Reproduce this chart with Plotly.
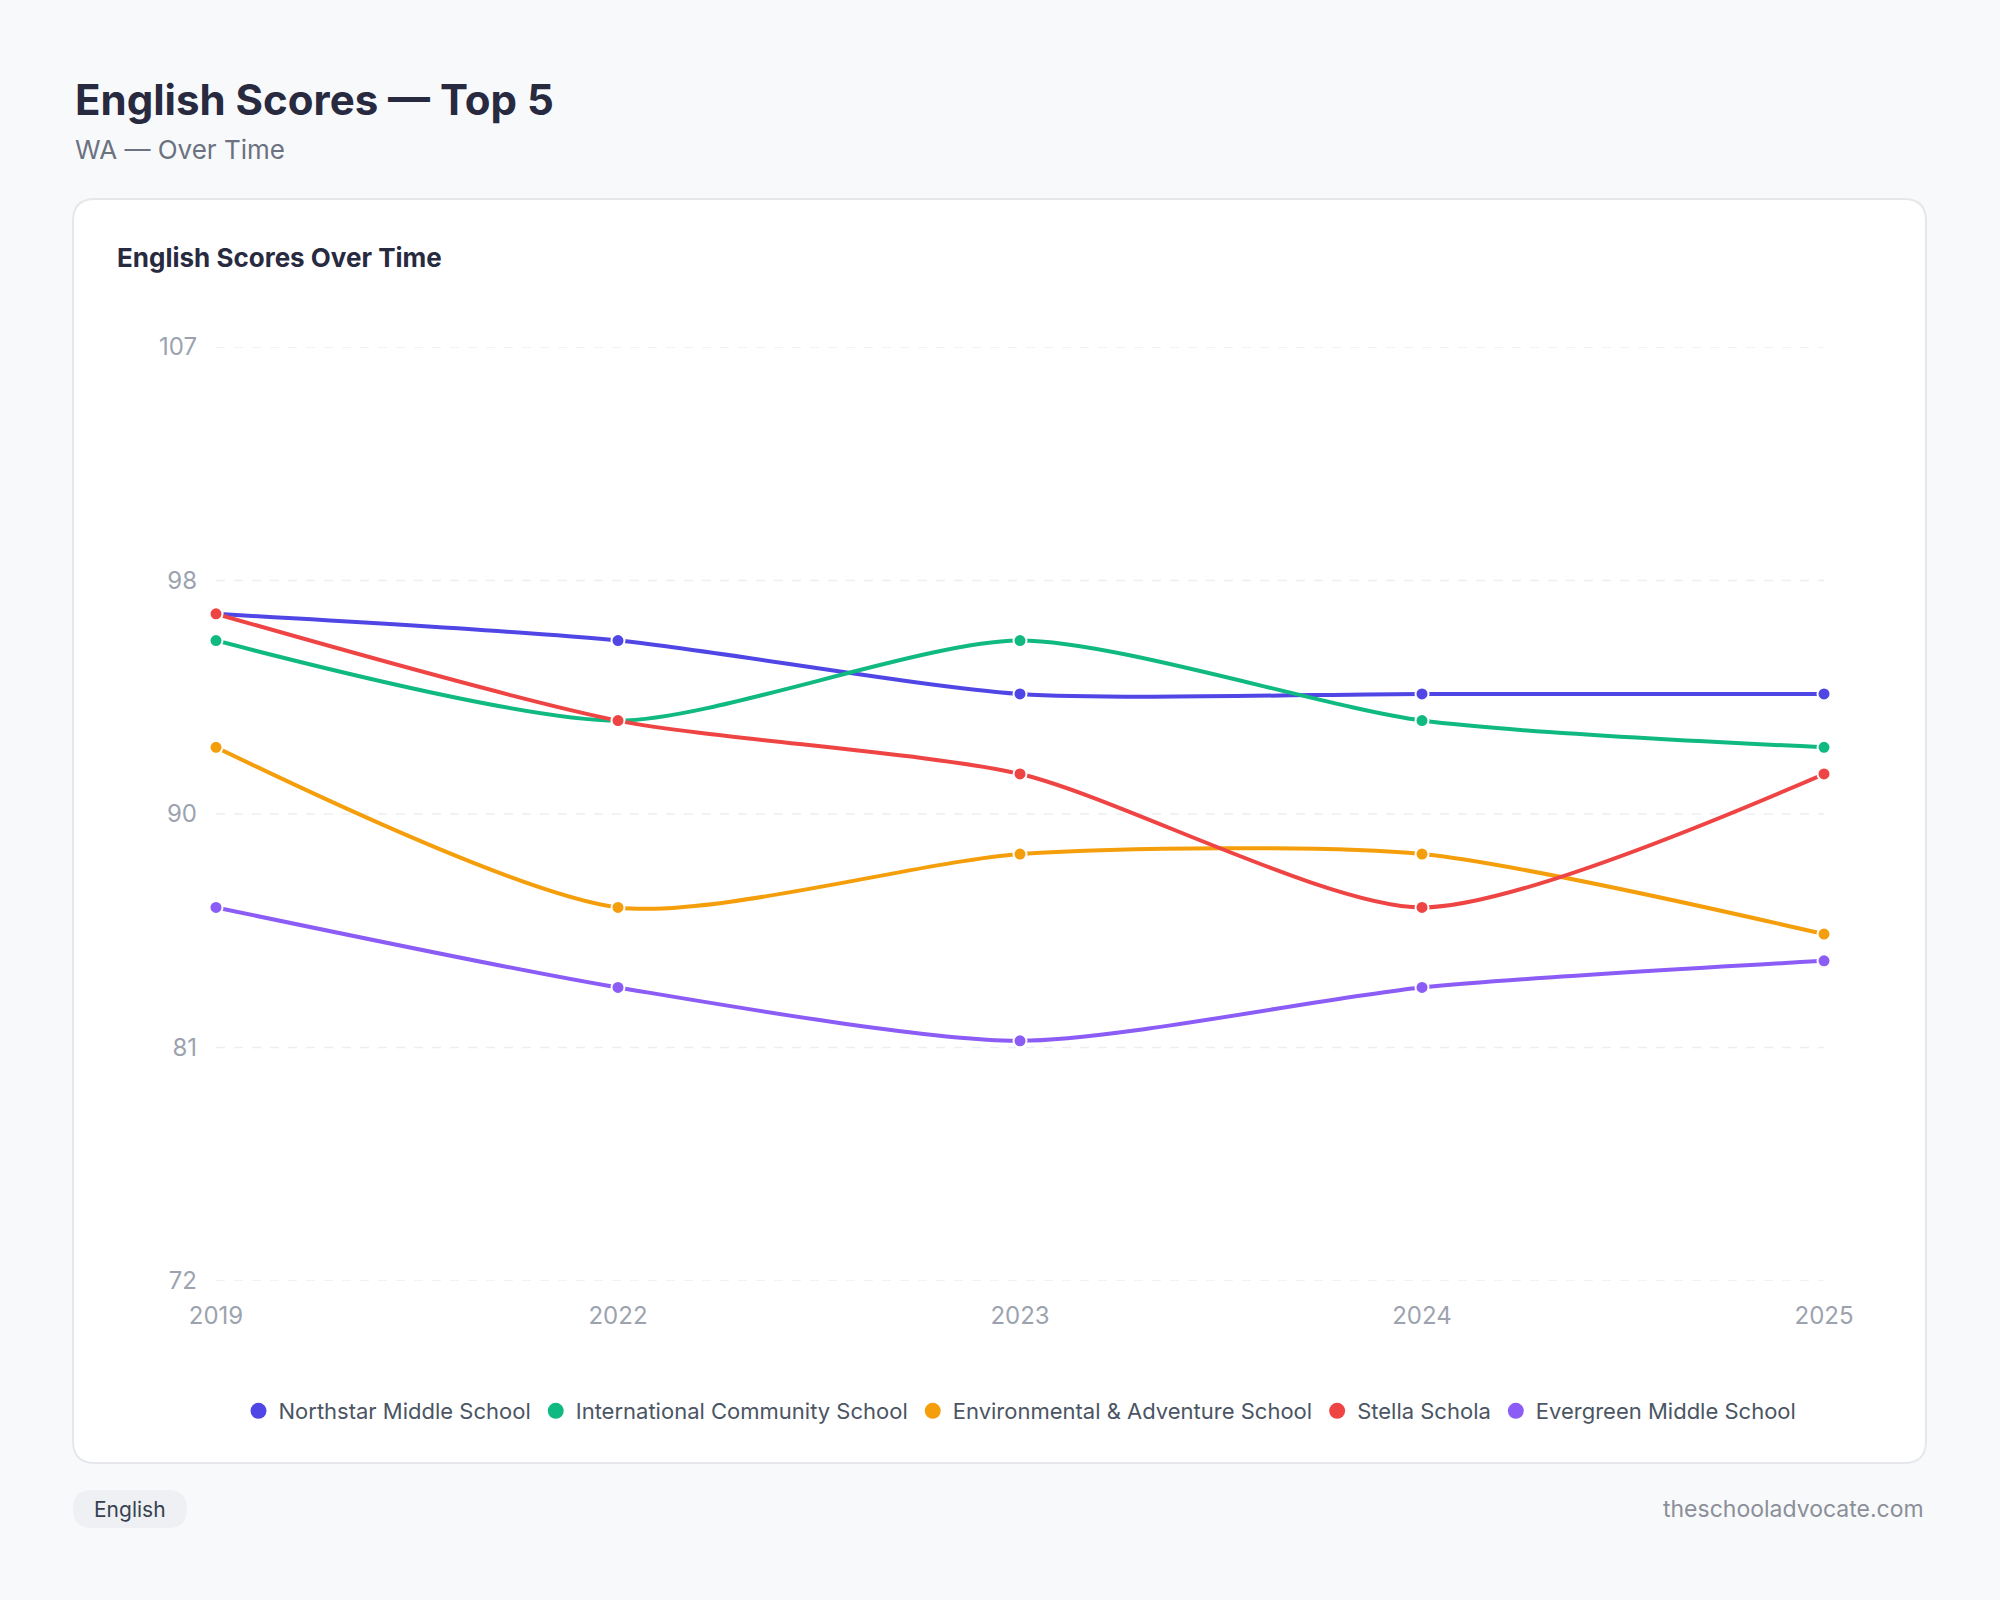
import plotly.graph_objects as go

years = ["2019", "2022", "2023", "2024", "2025"]
schools = ["Northstar Middle School", "International Community School",
           "Environmental & Adventure School", "Stella Schola", "Evergreen Middle School"]
northstar = [97, 96, 94, 94, 94]
international = [96, 93, 96, 93, 92]
environmental = [92, 86, 88, 88, 85]
stella = [97, 93, 91, 86, 91]
evergreen = [86, 83, 81, 83, 84]
series = [northstar, international, environmental, stella, evergreen]
colors = ["#4f46e5", "#10b981", "#f59e0b", "#ef4444", "#8b5cf6"]
tick_vals = [72, 80.75, 89.5, 98.25, 107]
tick_text = ["72", "81", "90", "98", "107"]

W, H = 2000, 1600
L, R, T, B = 216, 1824, 347, 1281
def px(x): return (x - L) / (R - L)
def py(y): return (B - y) / (B - T)

FONT = "Inter, Roboto, sans-serif"
fig = go.Figure()
xs = list(range(len(years)))
for name, vals, c in zip(schools, series, colors):
    fig.add_trace(go.Scatter(x=xs, y=vals, mode="lines+markers", name=name,
        line=dict(color=c, width=4, shape="spline", smoothing=0.7),
        marker=dict(size=13, color=c, line=dict(color="white", width=2)),
        cliponaxis=False, showlegend=False))
for name, c in zip(schools, colors):
    fig.add_trace(go.Scatter(x=[None], y=[None], mode="markers", name=name,
        marker=dict(size=16, color=c), showlegend=True))

def rrect(x0, y0, x1, y1, r):
    X0, X1 = px(x0), px(x1)
    Y0, Y1 = py(y0), py(y1)
    rx = r / (R - L); ry = r / (B - T)
    return (f"M{X0+rx},{Y0} L{X1-rx},{Y0} Q{X1},{Y0} {X1},{Y0-ry} "
            f"L{X1},{Y1+ry} Q{X1},{Y1} {X1-rx},{Y1} L{X0+rx},{Y1} "
            f"Q{X0},{Y1} {X0},{Y1+ry} L{X0},{Y0-ry} Q{X0},{Y0} {X0+rx},{Y0} Z")

shapes = [
    dict(type="path", xref="paper", yref="paper", path=rrect(73, 199, 1926, 1463, 22),
         fillcolor="white", line=dict(color="#e5e7eb", width=2), layer="below"),
    dict(type="path", xref="paper", yref="paper", path=rrect(73, 1490, 187, 1528, 19),
         fillcolor="#eef0f3", line=dict(width=0), layer="below"),
]
for tv in tick_vals:
    shapes.append(dict(type="line", xref="paper", yref="y", x0=0, x1=1, y0=tv, y1=tv,
                       line=dict(color="#eceef2", width=1.5, dash="dash"), layer="below"))
ann = [
    dict(text="<b>English Scores — Top 5</b>", x=px(73), y=py(99), font=dict(size=42, color="#282a3f")),
    dict(text="WA — Over Time", x=px(73), y=py(150), font=dict(size=26, color="#6b7280")),
    dict(text="<b>English Scores Over Time</b>", x=px(115), y=py(258), font=dict(size=26, color="#282a3f")),
    dict(text="English", x=px(130), y=py(1509), xanchor="center", font=dict(size=21, color="#374151")),
    dict(text="theschooladvocate.com", x=px(1926), y=py(1509), xanchor="right", font=dict(size=23, color="#8b8f99")),
]
for a in ann:
    a.setdefault("xanchor", "left")
    a.update(xref="paper", yref="paper", yanchor="middle", showarrow=False)

fig.update_layout(
    width=W, height=H, margin=dict(l=L, r=W - R, t=T, b=H - B),
    paper_bgcolor="#f8f9fb", plot_bgcolor="rgba(0,0,0,0)",
    font=dict(family=FONT), shapes=shapes, annotations=ann,
    legend=dict(orientation="h", x=0.5, xanchor="center", y=py(1411), yanchor="middle",
                font=dict(size=22, color="#4b5563"), bgcolor="rgba(0,0,0,0)", itemwidth=30),
    xaxis=dict(range=[0, 4], tickvals=xs, ticktext=years, showgrid=False, zeroline=False,
               showline=False, tickfont=dict(size=24, color="#9ca3af"), ticks="", ticklabelstandoff=18),
    yaxis=dict(range=[72, 107], tickvals=tick_vals, ticktext=tick_text, showgrid=False,
               zeroline=False, showline=False,
               tickfont=dict(size=24, color="#9ca3af"), ticklabelstandoff=18),
)
fig.write_html("out.html", config={"displayModeBar": False},
               post_script="document.body.style.margin='0';")
